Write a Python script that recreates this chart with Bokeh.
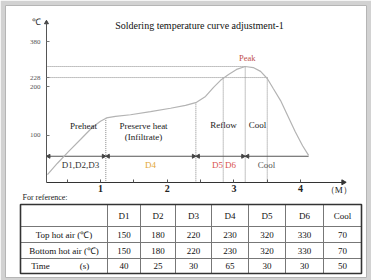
from bokeh.plotting import figure
from bokeh.models import Range1d, LinearAxis, LogAxis, FixedTicker, BasicTickFormatter, LinearScale
from bokeh.core.properties import value
from bokeh.embed import file_html
from bokeh.resources import INLINE

# ---------------- data (time in minutes, temperature in deg C, schematic) ----------------
curve_t = [0.205, 0.355, 0.52, 0.70, 0.88, 1.0, 1.09, 1.225, 1.45, 1.75, 2.05, 2.275, 2.44,
           2.575, 2.695, 2.80, 2.92, 3.04, 3.17, 3.29, 3.40, 3.50, 3.59, 3.70, 3.80, 3.92, 4.03, 4.12]
curve_T = [57, 67, 79, 94, 112, 122, 128, 131, 134, 140, 147, 153, 160,
           174, 198, 219, 238, 256, 267, 263, 249, 225, 195, 164, 134, 105, 86, 75]

y_ticks = [100, 200, 228, 380]
x_ticks = [1, 2, 3, 4]
x_minor = [0.5, 1.5, 2.5, 3.5]

peak_T = 267
peak_t = 3.17
ref_T = 228
ref_end_t = 3.50

axis_t0 = 0.19      # where the temperature axis stands
axis_T0 = 51        # where the time axis stands
axis_T_top = 500
axis_t_end = 4.64

vline_t = [1.08, 2.43, 2.84, 3.17, 3.50]
vline_top = [128, 160, 228, 267, 228]

zone_line_T = 74
zone_line_end = 4.12
zone_bounds = [1.08, 2.43, 3.17]

stage_labels = ["Preheat", "Preserve heat", "(Infiltrate)", "Reflow", "Cool"]
stage_t = [0.745, 1.645, 1.645, 2.845, 3.355]
stage_T = [113.5, 113.5, 98, 115, 115]

zone_labels = ["D1,D2,D3", "D4", "D5", "D6", "Cool"]
zone_t = [0.70, 1.75, 2.755, 2.95, 3.49]
zone_T = [65, 65, 65, 65, 65]
zone_colors = ["#333333", "#e3a83a", "#d9534f", "#d9534f", "#555555"]

# table
table_cols = ["D1", "D2", "D3", "D4", "D5", "D6", "Cool"]
top_air = [150, 180, 220, 230, 320, 330, 70]
bottom_air = [150, 180, 220, 230, 320, 330, 70]
time_s = [40, 25, 30, 65, 30, 30, 50]
row_labels = ["Top hot air (\u2103)", "Bottom hot air (\u2103)"]

# table layout (widths / heights)
col_widths = [87, 33, 35, 36, 37, 37, 38, 38]
row_heights = [22, 16, 16, 15]

SERIF = value("Liberation Serif")

p = figure(width=371, height=280, output_backend="svg", toolbar_location=None,
           x_range=Range1d(-0.424, 4.988), y_range=Range1d(13.08, 638.5),
           y_axis_type="log", x_axis_location=None, y_axis_location=None,
           min_border_left=5, min_border_right=5, min_border_top=5, min_border_bottom=3,
           background_fill_color="white", border_fill_color="#d2d2d2")
p.outline_line_color = "#b5b5b5"
p.outline_line_width = 1
p.grid.grid_line_color = None

# table ranges
p.extra_x_ranges = {"tx": Range1d(-15, 346)}
p.extra_y_ranges = {"ty": Range1d(73, -199)}
p.extra_y_scales = {"ty": LinearScale()}

# ---------------- axes ----------------
xax = LinearAxis(fixed_location=axis_T0, bounds=(axis_t0, axis_t_end),
                 ticker=FixedTicker(ticks=x_ticks, minor_ticks=x_minor))
xax.axis_line_color = "#333333"
xax.major_tick_in = 3
xax.major_tick_out = 0
xax.minor_tick_in = 3
xax.minor_tick_out = 0
xax.major_tick_line_color = "#555555"
xax.minor_tick_line_color = "#555555"
xax.major_label_text_font = "Liberation Serif"
xax.major_label_text_font_size = "10px"
xax.major_label_text_font_style = "bold"
xax.major_label_text_color = "#222222"
xax.major_label_standoff = 3
p.add_layout(xax, "below")

yax = LogAxis(fixed_location=axis_t0, bounds=(axis_T0, axis_T_top),
              ticker=FixedTicker(ticks=y_ticks), formatter=BasicTickFormatter())
yax.axis_line_color = "#555555"
yax.major_tick_in = 3
yax.major_tick_out = 0
yax.minor_tick_line_color = None
yax.major_tick_line_color = "#777777"
yax.major_label_text_font = "Liberation Serif"
yax.major_label_text_font_size = "7px"
yax.major_label_text_color = "#555555"
yax.major_label_standoff = 6
p.add_layout(yax, "left")

# axis arrows
p.scatter([axis_t0], [axis_T_top], marker="triangle", size=4, color="#444444")
p.scatter([axis_t_end], [axis_T0], marker="triangle", size=5, angle=-1.5708, color="#333333")

# ---------------- guide lines ----------------
p.line([axis_t0, peak_t], [peak_T, peak_T], line_dash="1 1", line_color="#888888", line_width=1)
p.line([axis_t0, ref_end_t], [ref_T, ref_T], line_dash="1 1", line_color="#888888", line_width=1)
p.segment(x0=vline_t, y0=vline_top, x1=vline_t, y1=[axis_T0] * len(vline_t),
          line_dash="1 1", line_color="#888888", line_width=1)

# zone line
p.line([axis_t0, zone_line_end], [zone_line_T, zone_line_T], line_color="#555555", line_width=1)
d = 0.035
p.scatter([axis_t0 + d] + [b + d for b in zone_bounds], [zone_line_T] * 4,
          marker="triangle", angle=1.5708, size=4, color="#444444")
p.scatter([b - d for b in zone_bounds], [zone_line_T] * 3,
          marker="triangle", angle=-1.5708, size=4, color="#444444")

# curve
p.line(curve_t, curve_T, line_color="#b3b3b3", line_width=1.2)

# ---------------- texts ----------------
p.text([2.485], [480], text=["Soldering temperature curve adjustment-1"], text_font=SERIF,
       text_font_size="10px", text_align="center", text_baseline="middle", text_color="#111111")
p.text([0.04], [501], text=["\u2103"], text_font=SERIF, text_font_size="9px",
       text_align="center", text_baseline="middle", text_color="#222222")
p.text([4.573], [45.4], text=["\uff08M\uff09"], text_font=SERIF, text_font_size="9px",
       text_align="center", text_baseline="middle", text_color="#222222")
p.text([3.20], [303], text=["Peak"], text_font=SERIF, text_font_size="8.5px",
       text_align="center", text_baseline="middle", text_color="#c0504d")
p.text(stage_t, stage_T, text=stage_labels, text_font=SERIF, text_font_size="9px",
       text_align="center", text_baseline="middle", text_color="#1a1a1a")
p.text(zone_t, zone_T, text=zone_labels, text_font=SERIF, text_font_size="9px",
       text_align="center", text_baseline="middle", text_color=zone_colors)

# ---------------- table ----------------
col_edges = [0]
for w in col_widths:
    col_edges.append(col_edges[-1] + w)
row_edges = [0]
for h in row_heights:
    row_edges.append(row_edges[-1] + h)
col_cent = [(col_edges[i] + col_edges[i + 1]) / 2 for i in range(len(col_widths))]
row_cent = [(row_edges[i] + row_edges[i + 1]) / 2 for i in range(len(row_heights))]
tw, th = col_edges[-1], row_edges[-1]

tbl = dict(x_range_name="tx", y_range_name="ty")
p.text([2], [-7], text=["For reference:"], text_font=SERIF, text_font_size="8px",
       text_align="left", text_baseline="middle", text_color="#222222", **tbl)
p.segment(x0=col_edges[1:-1], y0=[0] * (len(col_edges) - 2), x1=col_edges[1:-1],
          y1=[th] * (len(col_edges) - 2), line_color="#777777", line_width=1, **tbl)
p.segment(x0=[0] * (len(row_edges) - 2), y0=row_edges[1:-1], x1=[tw] * (len(row_edges) - 2),
          y1=row_edges[1:-1], line_color="#777777", line_width=1, **tbl)
p.quad(left=[0], right=[tw], top=[0], bottom=[th], fill_color=None, line_color="#333333",
       line_width=1.6, **tbl)

cell_kw = dict(text_font=SERIF, text_font_size="9px", text_align="center",
               text_baseline="middle", text_color="#111111", **tbl)
p.text(col_cent[1:], [row_cent[0]] * 7, text=table_cols, **cell_kw)
p.text(col_cent[1:], [row_cent[1]] * 7, text=[str(v) for v in top_air], **cell_kw)
p.text(col_cent[1:], [row_cent[2]] * 7, text=[str(v) for v in bottom_air], **cell_kw)
p.text(col_cent[1:], [row_cent[3]] * 7, text=[str(v) for v in time_s], **cell_kw)
p.text([col_cent[0]] * 2, row_cent[1:3], text=row_labels, **cell_kw)
p.text([20, 64], [row_cent[3]] * 2, text=["Time", "(s)"], **cell_kw)

open("out.html", "w").write(file_html(p, INLINE))
